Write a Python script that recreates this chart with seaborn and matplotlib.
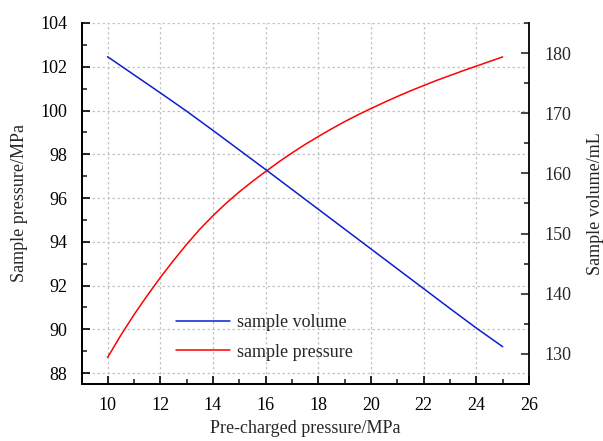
import numpy as np
import pandas as pd
import matplotlib
matplotlib.use("Agg")
import matplotlib.pyplot as plt
import seaborn as sns
from matplotlib.ticker import MultipleLocator

# Data
vol_precharge = [10, 11, 12, 13, 14, 15, 16, 17, 18, 19, 20, 21, 22, 23, 24, 25]
sample_volume = [179.4, 176.4, 173.4, 170.35, 167.15, 163.9, 160.65, 157.35,
                 154.05, 150.75, 147.45, 144.15, 140.85, 137.55, 134.3, 131.2]

pres_precharge = [10, 10.5, 11, 11.5, 12, 12.5, 13, 13.5, 14, 14.5, 15, 15.5,
                  16, 16.5, 17, 17.5, 18, 18.5, 19, 19.5, 20, 20.5, 21, 21.5,
                  22, 22.5, 23, 23.5, 24, 24.5, 25]
sample_pressure = [88.71, 89.72, 90.66, 91.53, 92.36, 93.14, 93.88, 94.57,
                   95.19, 95.76, 96.28, 96.76, 97.21, 97.65, 98.06, 98.45,
                   98.81, 99.16, 99.49, 99.80, 100.09, 100.37, 100.64, 100.90,
                   101.14, 101.38, 101.60, 101.82, 102.03, 102.24, 102.45]

x_ticks = [10, 12, 14, 16, 18, 20, 22, 24, 26]
left_ticks = [88, 90, 92, 94, 96, 98, 100, 102, 104]
right_ticks = [130, 140, 150, 160, 170, 180]

df_vol = pd.DataFrame({"precharge": vol_precharge, "volume": sample_volume})
df_pres = pd.DataFrame({"precharge": pres_precharge, "pressure": sample_pressure})

sns.set_style("ticks")
plt.rcParams["font.family"] = ["Liberation Serif", "DejaVu Serif"]
FS = 13

fig = plt.figure(figsize=(6.03, 4.41), dpi=100)
ax = fig.add_axes([82/603, 1-384/441, (529-82)/603, (384-23)/441])
ax2 = ax.twinx()

sns.lineplot(data=df_pres, x="precharge", y="pressure", ax=ax, color="#FF0000",
             linewidth=1.1, label="sample pressure", legend=False)
sns.lineplot(data=df_vol, x="precharge", y="volume", ax=ax2, color="#0A1ED0",
             linewidth=1.1, label="sample volume", legend=False)

ax.set_xlim(9.03, 26)
ax.set_ylim(87.5, 104)
ax2.set_ylim(125, 185)

ax.set_xticks(x_ticks)
ax.set_yticks(left_ticks)
ax2.set_yticks(right_ticks)
ax.xaxis.set_minor_locator(MultipleLocator(1))
ax.yaxis.set_minor_locator(MultipleLocator(1))
ax2.yaxis.set_minor_locator(MultipleLocator(5))

ax.grid(True, which="major", color="#c4c4c4", linestyle=(0, (2, 2)), linewidth=0.9)
ax.set_axisbelow(True)

for a in (ax, ax2):
    a.spines["top"].set_visible(False)
    for s in a.spines.values():
        s.set_linewidth(1.3)
        s.set_color("black")
ax.spines["right"].set_visible(False)

ax.tick_params(axis="both", which="major", direction="in", length=5.5, width=1.2,
               labelsize=FS, colors="black")
ax.tick_params(axis="y", which="major", pad=10.5)
ax.tick_params(axis="x", which="major", pad=9)
ax.tick_params(axis="both", which="minor", direction="in", length=3.8, width=1.2)
ax.tick_params(axis="x", top=False, which="both")
ax2.tick_params(axis="y", which="major", direction="in", length=5.5, width=1.2,
                labelsize=FS, pad=11)
ax2.tick_params(axis="y", which="minor", direction="in", length=3.8, width=1.2)

ax.set_xlabel("Pre-charged pressure/MPa", fontsize=FS, labelpad=5)
ax.set_ylabel("Sample pressure/MPa", fontsize=FS, labelpad=9)
ax2.set_ylabel("Sample volume/mL", fontsize=FS, labelpad=11)

h1, l1 = ax.get_legend_handles_labels()
h2, l2 = ax2.get_legend_handles_labels()
ax.legend(h2 + h1, l2 + l1, loc="center left", bbox_to_anchor=(0.21, 0.129),
          frameon=False, fontsize=FS, handlelength=3.0, handletextpad=0.4,
          labelspacing=0.7, borderpad=0, borderaxespad=0)

fig.savefig("out.png", dpi=100)
